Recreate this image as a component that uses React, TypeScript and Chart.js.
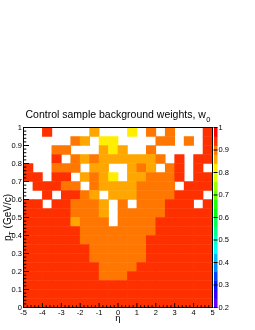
import { useEffect, useRef } from 'react';
import { Chart, registerables } from 'chart.js';

Chart.register(...registerables);

// ---- binning ----
const etaBinLow = [-5, -4.5, -4, -3.5, -3, -2.5, -2, -1.5, -1, -0.5, 0, 0.5, 1, 1.5, 2, 2.5, 3, 3.5, 4, 4.5];
const etaBinWidth = 0.5;
// rows from top (pT 0.95-1.00) to bottom (pT 0-0.05)
const ptBinLow = [0.95, 0.9, 0.85, 0.8, 0.75, 0.7, 0.65, 0.6, 0.55, 0.5, 0.45, 0.4, 0.35, 0.3, 0.25, 0.2, 0.15, 0.1, 0.05, 0];
const ptBinWidth = 0.05;

// ---- weights (null = empty bin) ----
const n = null;
const wPt095 = [n, n, 0.94, n, n, n, n, 0.86, n, n, n, 0.82, n, 0.9, n, 0.9, n, n, n, 0.94];
const wPt090 = [n, n, n, n, n, 0.9, 0.86, n, 0.82, 0.82, n, n, n, n, 0.9, 0.9, n, 0.9, n, 0.94];
const wPt085 = [n, n, n, 0.9, 0.9, n, n, n, 0.86, 0.82, 0.86, n, n, 0.9, n, n, n, n, n, 0.94];
const wPt080 = [n, n, n, 0.94, n, 0.9, 0.86, 0.9, 0.86, 0.86, 0.86, 0.86, 0.86, 0.86, 0.9, n, 0.94, n, 0.94, 0.94];
const wPt075 = [0.94, n, n, 0.9, 0.9, 0.9, n, 0.86, 0.86, n, n, 0.86, 0.9, 0.86, n, 0.9, 0.94, n, 0.94, n];
const wPt070 = [0.94, 0.94, n, 0.94, 0.94, n, 0.86, 0.9, 0.86, 0.82, n, 0.86, 0.86, 0.9, 0.9, 0.9, 0.94, n, 0.94, 0.94];
const wPt065 = [n, 0.94, 0.94, 0.94, 0.9, 0.9, n, 0.9, 0.86, 0.86, 0.86, 0.86, 0.9, 0.9, 0.9, 0.9, n, 0.94, 0.94, 0.94];
const wPt060 = [n, n, 0.94, n, 0.94, 0.94, 0.9, 0.86, n, 0.86, 0.86, 0.86, 0.9, 0.9, 0.9, 0.9, 0.94, 0.94, 0.94, n];
const wPt055 = [0.94, 0.94, n, 0.94, 0.94, 0.9, 0.9, 0.9, 0.86, n, 0.9, n, 0.9, 0.9, 0.9, 0.94, 0.94, 0.94, n, 0.94];
const wPt050 = [0.94, 0.94, 0.94, 0.94, 0.94, 0.9, 0.9, 0.9, 0.86, n, 0.9, 0.9, 0.9, 0.9, 0.9, 0.94, 0.94, 0.94, 0.94, 0.94];
const wPt045 = [0.94, 0.94, 0.94, 0.94, 0.94, 0.86, 0.9, 0.9, 0.9, n, 0.9, 0.9, 0.9, 0.9, 0.94, 0.94, 0.94, 0.94, 0.94, 0.94];
const wPt040 = [0.94, 0.94, 0.94, 0.94, 0.94, 0.94, 0.9, 0.9, 0.9, 0.9, 0.9, 0.9, 0.9, 0.9, 0.94, 0.94, 0.94, 0.94, 0.94, 0.94];
const wPt035 = [0.94, 0.94, 0.94, 0.94, 0.94, 0.94, 0.9, 0.9, 0.9, 0.9, 0.9, 0.9, 0.9, 0.94, 0.94, 0.94, 0.94, 0.94, 0.94, 0.94];
const wPt030 = [0.94, 0.94, 0.94, 0.94, 0.94, 0.94, 0.94, 0.9, 0.9, 0.9, 0.9, 0.9, 0.9, 0.94, 0.94, 0.94, 0.94, 0.94, 0.94, 0.94];
const wPt025 = [0.94, 0.94, 0.94, 0.94, 0.94, 0.94, 0.94, 0.9, 0.9, 0.9, 0.9, 0.9, 0.9, 0.94, 0.94, 0.94, 0.94, 0.94, 0.94, 0.94];
const wPt020 = [0.94, 0.94, 0.94, 0.94, 0.94, 0.94, 0.94, 0.94, 0.9, 0.9, 0.9, 0.9, 0.94, 0.94, 0.94, 0.94, 0.94, 0.94, 0.94, 0.94];
const wPt015 = [0.94, 0.94, 0.94, 0.94, 0.94, 0.94, 0.94, 0.94, 0.9, 0.9, 0.9, 0.94, 0.94, 0.94, 0.94, 0.94, 0.94, 0.94, 0.94, 0.94];
const wPt010 = [0.94, 0.94, 0.94, 0.94, 0.94, 0.94, 0.94, 0.94, 0.94, 0.94, 0.94, 0.94, 0.94, 0.94, 0.94, 0.94, 0.94, 0.94, 0.94, 0.94];
const wPt005 = [0.94, 0.94, 0.94, 0.94, 0.94, 0.94, 0.94, 0.94, 0.94, 0.94, 0.94, 0.94, 0.94, 0.94, 0.94, 0.94, 0.94, 0.94, 0.94, 0.94];
const wPt000 = [0.94, 0.94, 0.94, 0.94, 0.94, 0.94, 0.94, 0.94, 0.94, 0.94, 0.94, 0.94, 0.94, 0.94, 0.94, 0.94, 0.94, 0.94, 0.94, 0.94];
const weightRows = [wPt095, wPt090, wPt085, wPt080, wPt075, wPt070, wPt065, wPt060, wPt055, wPt050,
  wPt045, wPt040, wPt035, wPt030, wPt025, wPt020, wPt015, wPt010, wPt005, wPt000];

// ---- axes ----
const etaTicks = [-5, -4, -3, -2, -1, 0, 1, 2, 3, 4, 5];
const ptTicks = [0, 0.1, 0.2, 0.3, 0.4, 0.5, 0.6, 0.7, 0.8, 0.9, 1];
const zTicks = [0.2, 0.3, 0.4, 0.5, 0.6, 0.7, 0.8, 0.9, 1];
const etaMinorPerMajor = 5;
const ptMinorPerMajor = 5;
const zMin = 0.2;
const zMax = 1;
const nContours = 20;
const nColors = 50;

const FONT = '"Liberation Sans", Arial, Helvetica, sans-serif';

function paletteColor(i: number): string {
  if (i >= nColors - 1) return 'rgb(255,0,0)';
  const hue = 280 - (i + 1) * (280 / nColors);
  return `hsl(${hue},100%,50%)`;
}

function levelColor(k: number): string {
  return paletteColor(Math.floor((k + 0.99) * nColors / nContours));
}

function cellColor(v: number | undefined): string {
  if (v == null) return 'rgba(0,0,0,0)';
  let k = Math.floor((v - zMin) / (zMax - zMin) * nContours + 1e-9);
  k = Math.max(0, Math.min(nContours - 1, k));
  return levelColor(k);
}

type Cell = { x: number; y: [number, number]; v: number };
const cells: Cell[] = [];
weightRows.forEach((row, r) => {
  row.forEach((v, c) => {
    if (v != null) {
      cells.push({ x: etaBinLow[c] + etaBinWidth / 2, y: [ptBinLow[r], ptBinLow[r] + ptBinWidth], v });
    }
  });
});

function drawTicks(scale: any, majors: number[], perMajor: number,
  draw: (px: number, len: number) => void, majorLen: number, minorLen: number) {
  for (let i = 0; i < majors.length; i++) {
    draw(scale.getPixelForValue(majors[i]), majorLen);
    if (i < majors.length - 1) {
      const step = (majors[i + 1] - majors[i]) / perMajor;
      for (let j = 1; j < perMajor; j++) {
        draw(scale.getPixelForValue(majors[i] + j * step), minorLen);
      }
    }
  }
}

const rootStylePlugin = {
  id: 'rootStyle',
  afterDatasetsDraw(chart: any) {
    const { ctx, chartArea: a, scales } = chart;
    const xs = scales.x, ys = scales.y, cb = scales.cb;
    ctx.save();
    // colour palette
    const cbL = a.right + 1.5;
    const cbW = 3.5;
    for (let k = 0; k < nContours; k++) {
      const lo = zMin + k * (zMax - zMin) / nContours;
      const hi = zMin + (k + 1) * (zMax - zMin) / nContours;
      const top = cb.getPixelForValue(hi);
      const bot = cb.getPixelForValue(lo);
      ctx.fillStyle = levelColor(k);
      ctx.fillRect(cbL, top, cbW, bot - top + 0.4);
    }
    // frame
    ctx.strokeStyle = '#000';
    ctx.lineWidth = 1;
    ctx.strokeRect(a.left, a.top, a.right - a.left, a.bottom - a.top);
    // ticks
    ctx.beginPath();
    drawTicks(xs, etaTicks, etaMinorPerMajor, (px, len) => {
      ctx.moveTo(px, a.bottom); ctx.lineTo(px, a.bottom - len);
    }, 4.5, 2.3);
    drawTicks(ys, ptTicks, ptMinorPerMajor, (py, len) => {
      ctx.moveTo(a.left, py); ctx.lineTo(a.left + len, py);
    }, 5.5, 2.8);
    drawTicks(cb, zTicks, 1, (py, len) => {
      ctx.moveTo(cbL + cbW, py); ctx.lineTo(cbL + cbW - len, py);
    }, 4, 2);
    ctx.stroke();
    ctx.restore();
  },
  afterDraw(chart: any) {
    const { ctx, chartArea: a } = chart;
    ctx.save();
    ctx.fillStyle = '#000';
    ctx.textBaseline = 'alphabetic';
    ctx.textAlign = 'left';
    // main title with subscript
    const mainTxt = 'Control sample background weights, w';
    const subTxt = '0';
    ctx.font = `10.5px ${FONT}`;
    const wMain = ctx.measureText(mainTxt).width;
    ctx.font = `7.5px ${FONT}`;
    const wSub = ctx.measureText(subTxt).width;
    const cx = (a.left + a.right) / 2;
    const x0 = cx - (wMain + wSub + 0.5) / 2;
    ctx.font = `10.5px ${FONT}`;
    ctx.fillText(mainTxt, x0, 118.3);
    ctx.font = `7.5px ${FONT}`;
    ctx.fillText(subTxt, x0 + wMain + 0.5, 122);

    // x axis title
    ctx.font = `9.5px ${FONT}`;
    ctx.textAlign = 'center';
    ctx.fillText('η', cx, 320.5);

    // y axis title: p_T (GeV/c)
    const cy = (a.top + a.bottom) / 2;
    ctx.translate(11, cy);
    ctx.rotate(-Math.PI / 2);
    ctx.textAlign = 'left';
    ctx.font = `10px ${FONT}`;
    const wP = ctx.measureText('p').width;
    const wRest = ctx.measureText(' (GeV/c)').width;
    ctx.font = `7px ${FONT}`;
    const wT = ctx.measureText('T').width;
    const total = wP + wT + wRest;
    let tx = -total / 2;
    ctx.font = `10px ${FONT}`;
    ctx.fillText('p', tx, 0);
    tx += wP;
    ctx.font = `7px ${FONT}`;
    ctx.fillText('T', tx, 2.5);
    tx += wT;
    ctx.font = `10px ${FONT}`;
    ctx.fillText(' (GeV/c)', tx, 0);
    ctx.restore();
  },
};

const fmt = (v: any) => String(Number(v));

export default function App() {
  const ref = useRef<HTMLCanvasElement>(null);
  useEffect(() => {
    if (!ref.current) return;
    const tickFont = { family: FONT, size: 7.5 };
    const chart = new Chart(ref.current, {
      type: 'bar',
      data: {
        datasets: [
          {
            data: cells as any,
            backgroundColor: (c: any) => cellColor(c.raw ? c.raw.v : undefined),
            borderWidth: 0,
            barPercentage: 1,
            categoryPercentage: 1,
            grouped: false,
          } as any,
        ],
      },
      options: {
        responsive: false,
        animation: false,
        events: [],
        layout: { padding: { top: 127.5, left: 0, right: 0, bottom: 0 } },
        plugins: {
          legend: { display: false },
          tooltip: { enabled: false },
          title: { display: false },
        },
        scales: {
          x: {
            type: 'linear',
            position: 'bottom',
            min: -5,
            max: 5,
            offset: false,
            grid: { display: false, drawTicks: false },
            border: { display: false },
            ticks: { autoSkip: false, maxRotation: 0, padding: 1, color: '#000', font: tickFont, callback: fmt },
            afterBuildTicks: (s: any) => { s.ticks = etaTicks.map((v) => ({ value: v })); },
            afterFit: (s: any) => { s.height = 22.5; },
          },
          y: {
            type: 'linear',
            position: 'left',
            min: 0,
            max: 1,
            grid: { display: false, drawTicks: false },
            border: { display: false },
            ticks: { autoSkip: false, padding: 1.5, color: '#000', font: tickFont, callback: fmt },
            afterBuildTicks: (s: any) => { s.ticks = ptTicks.map((v) => ({ value: v })); },
            afterFit: (s: any) => { s.width = 23.5; },
          },
          cb: {
            type: 'linear',
            position: 'right',
            min: zMin,
            max: zMax,
            grid: { display: false, drawTicks: false },
            border: { display: false },
            ticks: { autoSkip: false, padding: 6, color: '#000', font: tickFont, callback: fmt },
            afterBuildTicks: (s: any) => { s.ticks = zTicks.map((v) => ({ value: v })); },
            afterFit: (s: any) => { s.width = 42.5; },
          },
        } as any,
      },
      plugins: [rootStylePlugin],
    } as any);
    return () => chart.destroy();
  }, []);
  return (
    <div style={{ position: 'fixed', left: 0, top: 0, width: 255, height: 330, background: '#fff' }}>
      <canvas ref={ref} width={255} height={330} />
    </div>
  );
}
